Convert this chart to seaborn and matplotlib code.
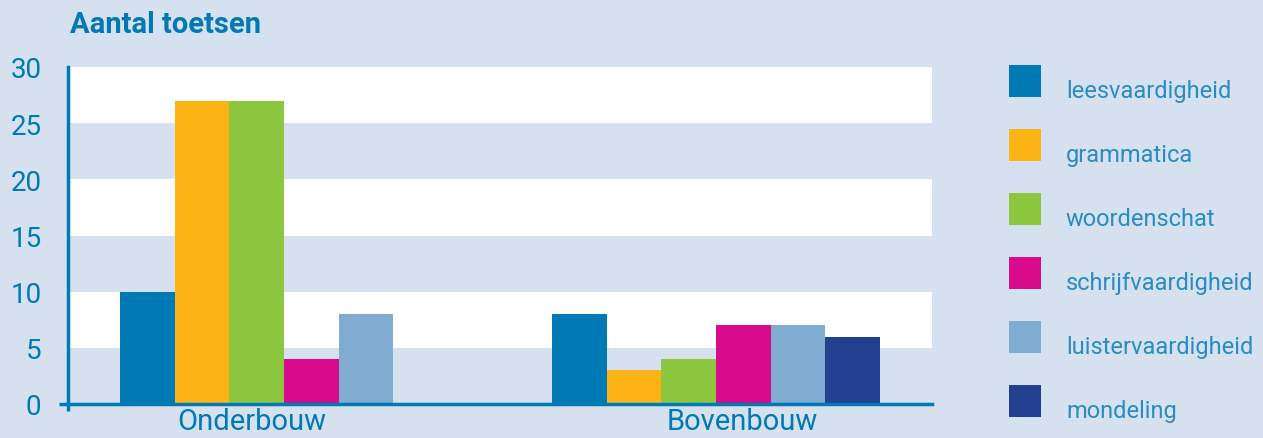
import numpy as np
import pandas as pd
import matplotlib
matplotlib.use("Agg")
import matplotlib.pyplot as plt
from matplotlib.patches import Rectangle
import seaborn as sns

# --------------------------------------------------
# Data

groups = ["Onderbouw", "Bovenbouw"]

subjects = [
    "leesvaardigheid",
    "grammatica",
    "woordenschat",
    "schrijfvaardigheid",
    "luistervaardigheid",
    "mondeling",
]

# Onderbouw has no mondeling bar
onderbouw = [10, 27, 27, 4, 8]
bovenbouw = [8, 3, 4, 7, 7, 6]

colors = ["#0079b5", "#fbb316", "#8dc63f", "#d70b8c", "#7facd0", "#233f8f"]

yticks = [0, 5, 10, 15, 20, 25, 30]

rows = []
for s, v in zip(subjects, onderbouw):
    rows.append({"group": "Onderbouw", "subject": s, "value": v})
for s, v in zip(subjects, bovenbouw):
    rows.append({"group": "Bovenbouw", "subject": s, "value": v})
df = pd.DataFrame(rows)

bg = "#d5e1ee"
blue = "#0079b5"
label_blue = "#2a8cc2"

W, H = 1263, 439

sns.set_style("white")
plt.rcParams["font.family"] = ["Roboto", "DejaVu Sans"]

fig = plt.figure(figsize=(W / 100, H / 100), dpi=100)
fig.patch.set_facecolor(bg)
ax = fig.add_axes([68 / W, 34 / H, 864 / W, 337 / H])
ax.set_facecolor(bg)

# white bands
for lo in [5, 15, 25]:
    ax.axhspan(lo, lo + 5, color="white", zorder=0, lw=0)

sns.barplot(
    data=df,
    x="group",
    y="value",
    hue="subject",
    order=groups,
    hue_order=subjects,
    palette=colors,
    saturation=1,
    width=0.757,
    dodge=True,
    linewidth=0,
    edgecolor="none",
    legend=False,
    ax=ax,
    zorder=2,
)

ax.set_xlim(-0.5, 1.5)
ax.set_ylim(0, 30)
ax.set_xlabel("")
ax.set_ylabel("")

ax.set_yticks(yticks)
ax.set_yticklabels([str(t) for t in yticks], fontsize=20, color=blue)
ax.tick_params(axis="y", length=0, pad=19)

ax.set_xticks([-0.074, 1.06])
ax.set_xticklabels(groups, fontsize=21, color=blue)
ax.tick_params(axis="x", length=0, pad=2)

for side in ["top", "right"]:
    ax.spines[side].set_visible(False)
for side in ["left", "bottom"]:
    ax.spines[side].set_color(blue)
    ax.spines[side].set_linewidth(2.5)
    ax.spines[side].set_zorder(3)

# little axis overhangs
ax.plot([-9 / 864, 0], [0, 0], transform=ax.transAxes, color=blue,
        lw=2.5, clip_on=False, solid_capstyle="butt")
ax.plot([0, 0], [0, -7 / 337], transform=ax.transAxes, color=blue,
        lw=2.5, clip_on=False, solid_capstyle="butt")

# legend (squares + labels on the right)
for i, (s, c) in enumerate(zip(subjects, colors)):
    top = 66 + 64 * i
    fig.add_artist(Rectangle((1009 / W, 1 - (top + 32) / H), 32 / W, 32 / H,
                             transform=fig.transFigure, color=c, lw=0))
    fig.text(1066 / W, 1 - (top + 32) / H, s, fontsize=17, color=label_blue,
             va="baseline", ha="left")

fig.text(70 / W, 1 - 33 / H, "Aantal toetsen", fontsize=21,
         fontweight="bold", color=blue, va="baseline", ha="left")

fig.savefig("out.png", dpi=100, facecolor=bg)
